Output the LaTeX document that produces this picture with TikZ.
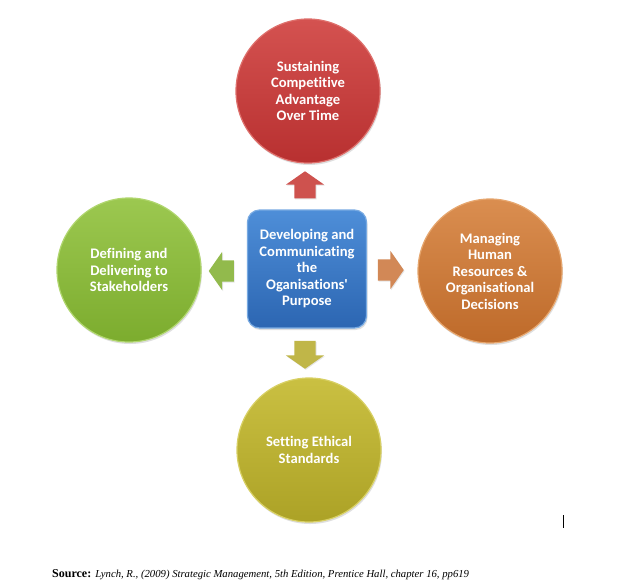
\documentclass[tikz,border=0pt]{standalone}
\usepackage{fontspec}
\setmainfont{Liberation Serif}
\newfontfamily\calibri[Ligatures=NoCommon]{Carlito}
\usetikzlibrary{shapes.arrows,shadows}

\definecolor{redTop}{RGB}{212,82,80}
\definecolor{redBot}{RGB}{184,48,48}
\definecolor{redRim}{RGB}{222,112,108}
\definecolor{greenTop}{RGB}{156,200,80}
\definecolor{greenBot}{RGB}{124,172,46}
\definecolor{greenRim}{RGB}{176,214,110}
\definecolor{orangeTop}{RGB}{218,142,80}
\definecolor{orangeBot}{RGB}{190,106,42}
\definecolor{orangeRim}{RGB}{230,166,110}
\definecolor{yellowTop}{RGB}{202,192,66}
\definecolor{yellowBot}{RGB}{172,162,38}
\definecolor{yellowRim}{RGB}{216,208,100}
\definecolor{blueTop}{RGB}{78,142,216}
\definecolor{blueBot}{RGB}{44,102,178}
\definecolor{blueRim}{RGB}{120,170,226}
\definecolor{redArrow}{RGB}{206,82,78}
\definecolor{greenArrow}{RGB}{146,186,76}
\definecolor{orangeArrow}{RGB}{210,136,86}
\definecolor{yellowArrow}{RGB}{192,182,72}

\begin{document}
\begin{tikzpicture}[x=1pt,y=-1pt,
  every node/.style={font=\calibri\bfseries\fontsize{14.6}{16.5}\selectfont,text=white,align=center},
  goal/.style={circle,minimum size=144pt,inner sep=0,line width=1.2pt,
    drop shadow={shadow xshift=1pt,shadow yshift=-2pt,opacity=.25}},
  pointer/.style={single arrow,draw=none,inner xsep=0,inner ysep=10.5pt,
    minimum height=27pt,single arrow head extend=8.5pt,single arrow tip angle=110,
    drop shadow={shadow xshift=.8pt,shadow yshift=-1pt,opacity=.2}}]

\fill[white] (0,0) rectangle (617,587);
\useasboundingbox (0,0) rectangle (617,587);

% centre box
\node[rounded corners=12pt,minimum width=119pt,minimum height=118pt,inner sep=0,
  top color=blueTop,bottom color=blueBot,draw=blueRim,line width=1.2pt,
  drop shadow={shadow xshift=1pt,shadow yshift=-2pt,opacity=.25}]
  (purpose) at (307,269) {Developing and\\Communicating\\the\\Oganisations'\\Purpose};

% the four circles
\node[goal,top color=redTop,bottom color=redBot,draw=redRim] (sustain) at (308,91)
  {Sustaining\\Competitive\\Advantage\\Over Time};
\node[goal,top color=greenTop,bottom color=greenBot,draw=greenRim] (define) at (129,270)
  {Defining and\\Delivering to\\Stakeholders};
\node[goal,top color=orangeTop,bottom color=orangeBot,draw=orangeRim] (manage) at (490,271)
  {Managing\\Human\\Resources \&\\Organisational\\Decisions};
\node[goal,top color=yellowTop,bottom color=yellowBot,draw=yellowRim] (ethics) at (309,450)
  {Setting Ethical\\Standards};

% arrows
\node[pointer,fill=redArrow,rotate=90] (toSustain) at (305,188.5) {};
\node[pointer,fill=greenArrow,rotate=180,minimum height=25pt] (toDefine) at (225,271) {};
\node[pointer,fill=orangeArrow,minimum height=26pt] (toManage) at (387,270) {};
\node[pointer,fill=yellowArrow,rotate=-90,minimum height=28pt] (toEthics) at (305,351) {};

% caret mark
\coordinate (caretTop) at (563,515);
\coordinate (caretBot) at (563,528);
\draw[line width=.8pt] (caretTop) -- (caretBot);

% source line
\node[anchor=base west,inner sep=0,font=\rmfamily\fontsize{12}{14}\selectfont,text=black] (source) at (52,577)
  {\textbf{Source:} {\fontsize{10.7}{14}\selectfont\itshape Lynch, R., (2009) Strategic Management, 5th Edition, Prentice Hall, chapter 16, pp619}};
\end{tikzpicture}
\end{document}
